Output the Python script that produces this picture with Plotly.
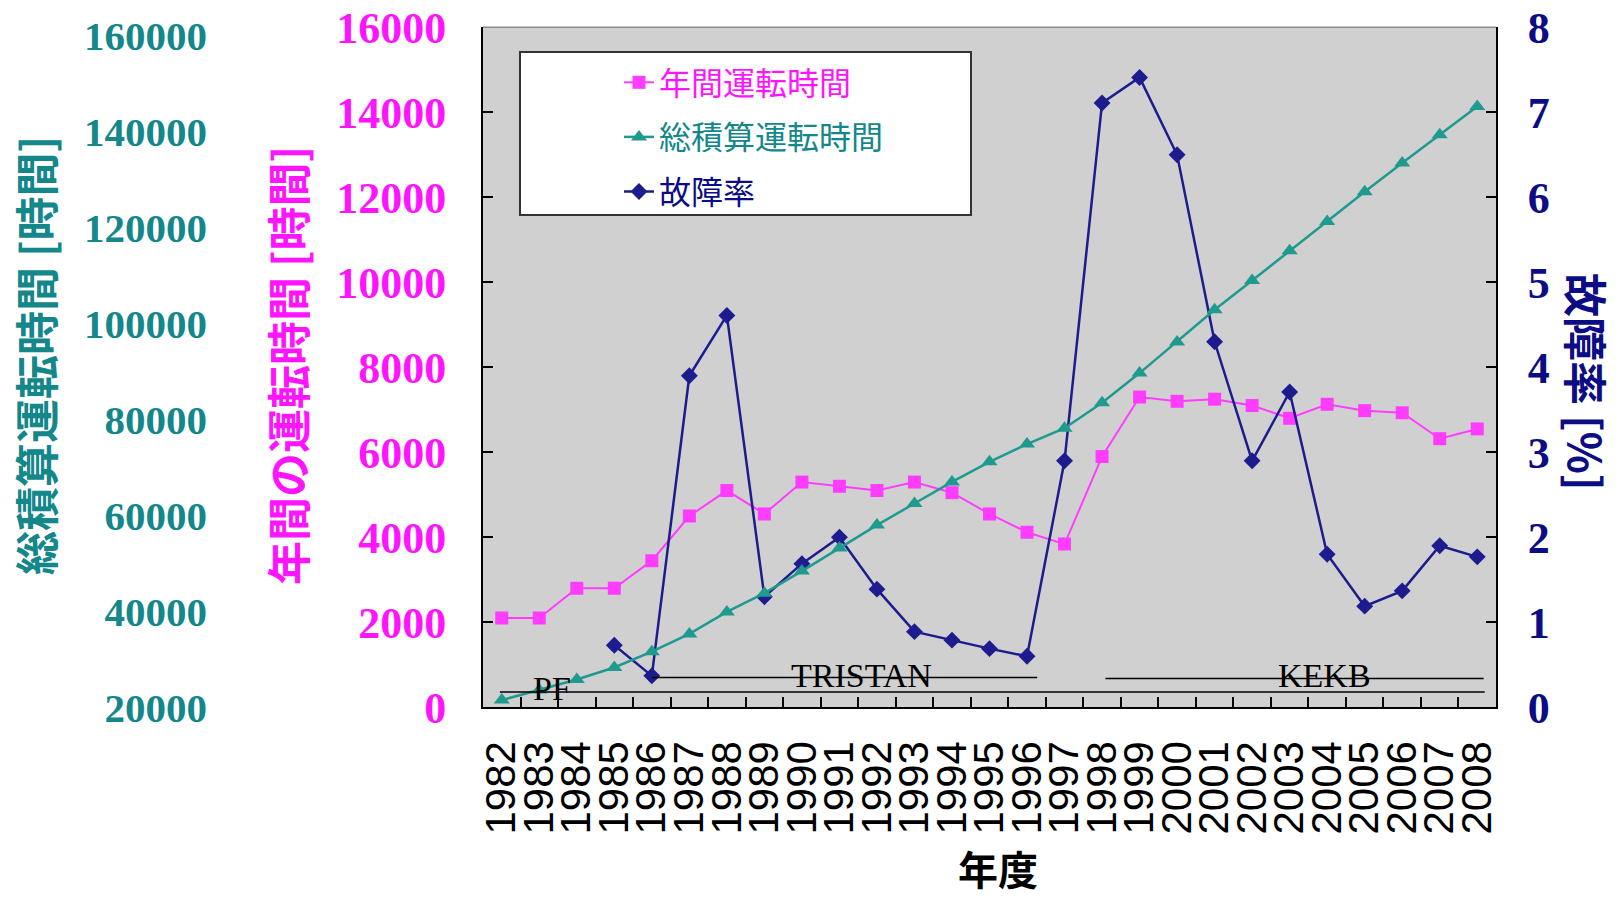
import plotly.graph_objects as go

# ---------------- data ----------------
years = ["1982", "1983", "1984", "1985", "1986", "1987", "1988", "1989", "1990",
         "1991", "1992", "1993", "1994", "1995", "1996", "1997", "1998", "1999",
         "2000", "2001", "2002", "2003", "2004", "2005", "2006", "2007", "2008"]

annual_hours = [2100, 2100, 2800, 2800, 3450, 4500, 5100, 4550, 5300,
                5200, 5100, 5300, 5050, 4550, 4120, 3840, 5900, 7300,
                7200, 7250, 7100, 6800, 7130, 6980, 6930, 6320, 6550]

cumulative_hours = [21500, 23600, 25800, 28300, 31600, 35300, 39900, 43800, 48400,
                    53200, 58000, 62500, 67000, 71200, 74900, 78200, 83500, 89700,
                    96200, 102900, 109000, 115200, 121300, 127500, 133500, 139400, 145300]

failure_rate = [None, None, None, 0.73, 0.37, 3.90, 4.61, 1.30, 1.69,
                2.00, 1.39, 0.89, 0.79, 0.69, 0.60, 2.90, 7.11, 7.41,
                6.50, 4.30, 2.90, 3.71, 1.80, 1.19, 1.37, 1.90, 1.77]

teal_tick_values = [20000, 40000, 60000, 80000, 100000, 120000, 140000, 160000]

# accelerator eras: name, start year, end year
era_names = ["PF", "TRISTAN", "KEKB"]
era_start = ["1982", "1986", "1998"]
era_end = ["2008", "1996", "2008"]

series_names = ["年間運転時間", "総積算運転時間", "故障率"]

# ---------------- styling ----------------
W, H = 1619, 898
PINK = "#FF3CFF"
PINK_TXT = "#FF14FF"
TEAL = "#1E9A8E"
TEAL_TXT = "#13878A"
NAVY = "#1C1C8E"
NAVY_TXT = "#0C0C84"
BG = "#D0D0D0"

PL, PR, PT, PB = 483, 1496, 27.3, 707.3


def px(x):
    return x / W


def py(y):
    return 1 - y / H


fig = go.Figure()

fig.add_trace(go.Scatter(
    x=years, y=annual_hours, yaxis="y", mode="lines+markers",
    name=f"<span style='color:{PINK_TXT}'>{series_names[0]}</span>",
    line=dict(color=PINK, width=2),
    marker=dict(symbol="square", size=13, color=PINK),
    legendgroup="a"))

fig.add_trace(go.Scatter(
    x=years, y=cumulative_hours, yaxis="y4", mode="lines+markers",
    name=f"<span style='color:{TEAL_TXT}'>{series_names[1]}</span>",
    line=dict(color=TEAL, width=2.5),
    marker=dict(symbol="triangle-up", size=14, color=TEAL),
    legendgroup="b"))

fig.add_trace(go.Scatter(
    x=years, y=failure_rate, yaxis="y3", mode="lines+markers",
    name=f"<span style='color:{NAVY_TXT}'>{series_names[2]}</span>",
    line=dict(color=NAVY, width=2.5),
    marker=dict(symbol="diamond", size=13, color=NAVY),
    legendgroup="c", connectgaps=False))

ydom = [py(PB), py(PT)]
serif_bold = "Liberation Serif"

fig.update_layout(
    width=W, height=H,
    margin=dict(l=0, r=0, t=0, b=0),
    paper_bgcolor="white",
    plot_bgcolor=BG,
    showlegend=True,
    legend=dict(
        x=px(619), y=py(55), xanchor="left", yanchor="top",
        bgcolor="rgba(0,0,0,0)", borderwidth=0,
        font=dict(family="Noto Sans CJK JP", size=32),
        traceorder="grouped", tracegroupgap=10,
    ),
    xaxis=dict(
        domain=[px(PL), px(PR)], type="category", range=[-0.5, 26.5],
        tickmode="linear", tick0=0, dtick=1,
        anchor="y", showline=True, linecolor="black", linewidth=2,
        ticks="inside", tickson="boundaries", ticklen=10, tickcolor="black",
        tickwidth=1.5, tickangle=-90, ticklabelstandoff=15,
        tickfont=dict(family="Liberation Sans", size=42, color="black"),
        showgrid=False, zeroline=False, automargin=False,
    ),
    yaxis=dict(
        domain=ydom, range=[0, 16000], dtick=2000, tickformat="d",
        anchor="x", side="left",
        showline=True, linecolor="black", linewidth=2,
        ticks="inside", ticklen=10, tickcolor="black", tickwidth=1.5,
        ticklabelstandoff=26,
        tickfont=dict(family=serif_bold, size=44, color=PINK_TXT, weight="bold"),
        showgrid=False, zeroline=False, automargin=False,
    ),
    yaxis2=dict(
        overlaying="y", anchor="free", position=px(225), side="left",
        range=[0, 16000], dtick=2000, showticklabels=False,
        showline=True, linecolor=TEAL, linewidth=2,
        ticks="inside", ticklen=35, tickcolor=TEAL, tickwidth=2,
        showgrid=False, zeroline=False, automargin=False,
    ),
    yaxis4=dict(
        overlaying="y", anchor="free", position=px(225), side="left",
        range=[19999, 161814], tickvals=teal_tick_values,
        ticktext=[str(v) for v in teal_tick_values],
        showline=False, ticks="", ticklabelstandoff=18,
        tickfont=dict(family=serif_bold, size=41, color=TEAL_TXT, weight="bold"),
        showgrid=False, zeroline=False, automargin=False,
    ),
    yaxis3=dict(
        overlaying="y", anchor="x", side="right", range=[0, 8], dtick=1,
        showline=True, linecolor="black", linewidth=2,
        ticks="inside", ticklen=10, tickcolor="black", tickwidth=1.5,
        ticklabelstandoff=21,
        tickfont=dict(family=serif_bold, size=44, color=NAVY_TXT, weight="bold"),
        showgrid=False, zeroline=False, automargin=False,
    ),
)

shapes = []
# top border of plot frame
shapes.append(dict(type="line", xref="paper", yref="paper",
                   x0=px(PL), x1=px(PR), y0=py(PT), y1=py(PT),
                   line=dict(color="#8a8a8a", width=1.5), layer="above"))
# legend frame
shapes.append(dict(type="rect", xref="paper", yref="paper",
                   x0=px(520), x1=px(971), y0=py(215), y1=py(52),
                   fillcolor="white", line=dict(color="#333333", width=2),
                   layer="above"))

# era lines (category index units)
era_line_y = [0.18, 0.35, 0.34]
era_pad = [(-0.05, 0.2), (0.0, 0.27), (0.09, 0.17)]
era_label_x = [1.35, 9.58, 21.93]
era_label_y = [0.22, 0.38, 0.38]
annotations = []
for i, name in enumerate(era_names):
    x0 = years.index(era_start[i]) + era_pad[i][0]
    x1 = years.index(era_end[i]) + era_pad[i][1]
    shapes.append(dict(type="line", xref="x", yref="y3", x0=x0, x1=x1,
                       y0=era_line_y[i], y1=era_line_y[i],
                       line=dict(color="black", width=1.5), layer="above"))
    annotations.append(dict(xref="x", yref="y3", x=era_label_x[i], y=era_label_y[i],
                            text=name, showarrow=False, xanchor="center", yanchor="middle",
                            font=dict(family="Liberation Serif", size=34, color="black")))

# axis titles
annotations.append(dict(xref="paper", yref="paper", x=px(35), y=py(356),
                        text="総積算運転時間 [時間]", textangle=-90, showarrow=False,
                        xanchor="center", yanchor="middle",
                        font=dict(family="Noto Sans CJK JP", size=44, color=TEAL_TXT, weight="bold")))
annotations.append(dict(xref="paper", yref="paper", x=px(287), y=py(366),
                        text="年間の運転時間 [時間]", textangle=-90, showarrow=False,
                        xanchor="center", yanchor="middle",
                        font=dict(family="Noto Sans CJK JP", size=44, color=PINK_TXT, weight="bold")))
annotations.append(dict(xref="paper", yref="paper", x=px(1587), y=py(382),
                        text="故障率 [%]", textangle=90, showarrow=False,
                        xanchor="center", yanchor="middle",
                        font=dict(family="Noto Sans CJK JP", size=44, color=NAVY_TXT, weight="bold")))
annotations.append(dict(xref="paper", yref="paper", x=px(998), y=py(897.5),
                        text="年度", showarrow=False, xanchor="center", yanchor="bottom",
                        borderpad=0,
                        font=dict(family="Noto Sans CJK JP", size=40, color="black", weight="bold")))

fig.update_layout(shapes=shapes, annotations=annotations)

fig.write_html("out.html", config={"displayModeBar": False},
               post_script="document.body.style.margin='0';")
